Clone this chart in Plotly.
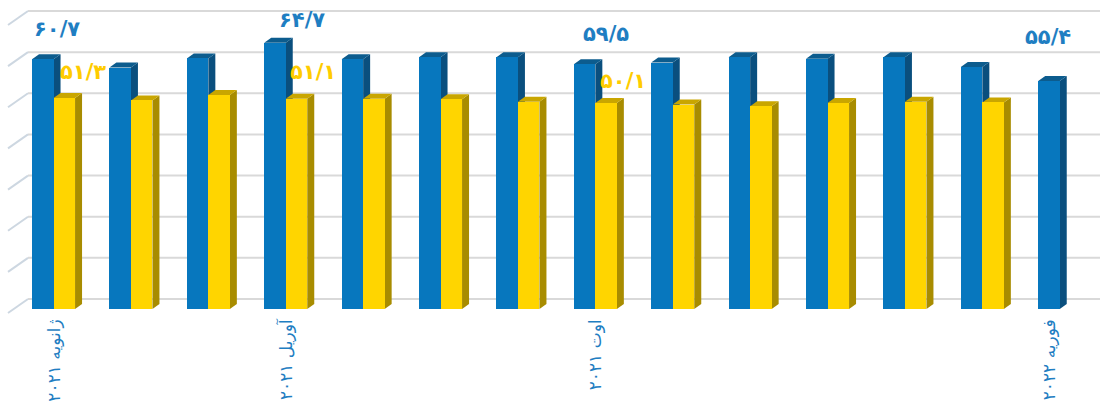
import plotly.graph_objects as go

# ---------------- data ----------------
months = ["ژانویه ۲۰۲۱", "فوریه ۲۰۲۱", "مارس ۲۰۲۱", "آوریل ۲۰۲۱", "مه ۲۰۲۱", "ژوئن ۲۰۲۱",
          "ژوئیه ۲۰۲۱", "اوت ۲۰۲۱", "سپتامبر ۲۰۲۱", "اکتبر ۲۰۲۱", "نوامبر ۲۰۲۱",
          "دسامبر ۲۰۲۱", "ژانویه ۲۰۲۲", "فوریه ۲۰۲۲"]
blue_vals = [60.7, 58.7, 60.9, 64.7, 60.7, 61.2, 61.2, 59.5, 59.9, 61.2, 60.8, 61.2, 58.8, 55.4]
yellow_vals = [51.3, 50.7, 52.0, 51.1, 51.1, 51.0, 50.4, 50.1, 49.7, 49.3, 50.1, 50.4, 50.2, None]
shown_ticks = [0, 3, 7, 13]
blue_labeled = [0, 3, 7, 13]
yellow_labeled = [0, 3, 7]

# ---------------- layout geometry (styles / positions) ----------------
W, H = 1100, 403
M_L, M_R, M_T, M_B = 28, 0, 0, 94
PLOT_W = W - M_L - M_R
PLOT_H = H - M_T - M_B
PPU_Y = 4.114             # px per value unit
PPU_X = 77.4              # px per category
CENTER0_PX = 54           # px position of first group centre
x_lo = -(CENTER0_PX - M_L) / PPU_X
x_hi = x_lo + PLOT_W / PPU_X
y_hi = PLOT_H / PPU_Y

BAR_W = 0.278
BLUE_OFF = -0.284
YEL_OFF = -0.006
DX = 7 / PPU_X            # depth offset (x)
DY = 5 / PPU_Y            # depth offset (y)
BACK0 = 10 / PPU_Y        # back wall zero, relative to the front zero
TICK_NUDGE = {13: -0.14}  # last label sits under its single bar

BLUE_FRONT, BLUE_SIDE, BLUE_TOP = "#0777BE", "#0A4F7E", "#0C5C8E"
YEL_FRONT, YEL_SIDE, YEL_TOP = "#FFD500", "#A88C00", "#C9A600"
GRID = "#D9D9D9"
LABEL_BLUE = "#1F7EC2"
LABEL_YEL = "#FFCC00"

blue_label_shift = [(3, 30), (16, 23), (10, 30), (-12, 44)]
yel_label_shift = [(29, 26), (27, 27), (27, 22)]

FA_DIGITS = str.maketrans("0123456789", "۰۱۲۳۴۵۶۷۸۹")


def fa_num(v):
    return f"{v:.1f}".replace(".", "/").translate(FA_DIGITS)


idx = list(range(len(months)))

fig = go.Figure()
fig.add_trace(go.Bar(x=idx, y=blue_vals, width=BAR_W, offset=BLUE_OFF,
                     marker=dict(color=BLUE_FRONT, line=dict(width=0)), name="blue",
                     hoverinfo="skip"))
fig.add_trace(go.Bar(x=idx, y=yellow_vals, width=BAR_W, offset=YEL_OFF,
                     marker=dict(color=YEL_FRONT, line=dict(width=0)), name="yellow",
                     hoverinfo="skip"))

shapes = []
# back-wall gridlines and left stubs
for k in range(8):
    yp = (BACK0 + 10 * k) / y_hi
    shapes.append(dict(type="line", xref="paper", yref="paper", x0=0, x1=1, y0=yp, y1=yp,
                       line=dict(color=GRID, width=2), layer="below"))
    shapes.append(dict(type="line", xref="paper", yref="paper",
                       x0=-20 / PLOT_W, x1=0, y0=yp - 14 / PLOT_H, y1=yp,
                       line=dict(color="#CDD7E1", width=2), layer="below"))


def faces(vals, off, side_c, top_c):
    out = []
    for i, v in zip(idx, vals):
        if v is None:
            continue
        a = i + off
        b = a + BAR_W
        side = f"M {b},0 L {b + DX},{DY} L {b + DX},{v + DY} L {b},{v} Z"
        top = f"M {a},{v} L {b},{v} L {b + DX},{v + DY} L {a + DX},{v + DY} Z"
        out.append(dict(type="path", xref="x", yref="y", path=side, fillcolor=side_c,
                        line=dict(width=0), layer="below"))
        out.append(dict(type="path", xref="x", yref="y", path=top, fillcolor=top_c,
                        line=dict(width=0), layer="below"))
    return out


shapes += faces(blue_vals, BLUE_OFF, BLUE_SIDE, BLUE_TOP)
shapes += faces(yellow_vals, YEL_OFF, YEL_SIDE, YEL_TOP)

annotations = []
for i, (sx, sy) in zip(blue_labeled, blue_label_shift):
    annotations.append(dict(x=i, y=blue_vals[i], xref="x", yref="y", text=fa_num(blue_vals[i]),
                            showarrow=False, xshift=sx, yshift=sy, xanchor="center",
                            yanchor="middle",
                            font=dict(family="DejaVu Sans", size=21, color=LABEL_BLUE,
                                      weight="bold")))
for i, (sx, sy) in zip(yellow_labeled, yel_label_shift):
    annotations.append(dict(x=i, y=yellow_vals[i], xref="x", yref="y", text=fa_num(yellow_vals[i]),
                            showarrow=False, xshift=sx, yshift=sy, xanchor="center",
                            yanchor="middle",
                            font=dict(family="DejaVu Sans", size=21, color=LABEL_YEL,
                                      weight="bold")))

fig.update_layout(
    width=W, height=H,
    margin=dict(l=M_L, r=M_R, t=M_T, b=M_B, pad=0, autoexpand=False),
    paper_bgcolor="white", plot_bgcolor="white",
    barmode="overlay", bargap=0, showlegend=False,
    shapes=shapes, annotations=annotations,
    xaxis=dict(range=[x_lo, x_hi], tickmode="array",
               tickvals=[i + TICK_NUDGE.get(i, 0) for i in shown_ticks],
               ticktext=[months[i] for i in shown_ticks], tickangle=-90,
               ticklabelstandoff=6, automargin=False,
               tickfont=dict(family="DejaVu Sans", size=17, color=LABEL_BLUE),
               showgrid=False, zeroline=False, showline=False, ticks="", fixedrange=True),
    yaxis=dict(range=[0, y_hi], showgrid=False, zeroline=False, showline=False,
               showticklabels=False, ticks="", fixedrange=True, automargin=False),
)

fig.write_html("out.html")
